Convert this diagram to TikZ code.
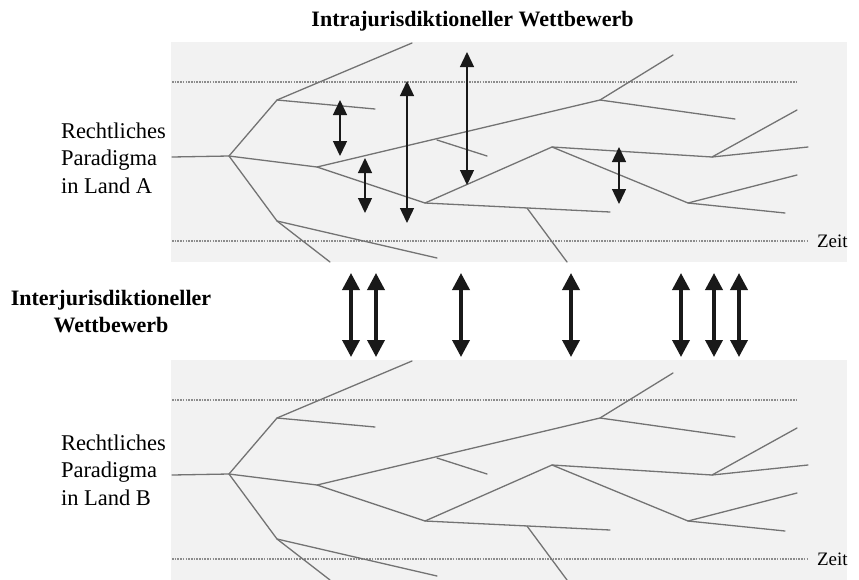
\documentclass[tikz,border=0pt]{standalone}
\usepackage{fontspec}
\setmainfont{Liberation Serif}
\usetikzlibrary{arrows.meta}

\tikzset{
  branch/.style={draw=black!55, line width=1.3pt, line cap=round, line join=round},
  timeline/.style={draw=black!45, line width=1.1pt, dash pattern=on 1.6pt off 1.1pt},
  panel/.style={fill=black!5, draw=none},
  smallarrow/.style={draw=black!90, line width=1.4pt,
    {Triangle[width=14pt,length=15pt]}-{Triangle[width=14pt,length=15pt]}},
  bigarrow/.style={draw=black!90, line width=3.6pt,
    {Triangle[width=17pt,length=17pt]}-{Triangle[width=17pt,length=17pt]}},
  lbl/.style={font=\fontsize{22.5}{27.3}\selectfont, inner sep=0pt, outer sep=0pt},
  ttl/.style={font=\fontsize{22}{27}\selectfont\bfseries, inner sep=0pt, outer sep=0pt},
  zeit/.style={font=\fontsize{19}{22}\selectfont, inner sep=0pt, outer sep=0pt},
  paradigm/.pic={
    \path[panel] (171,42) rectangle (847,262);
    \coordinate (-L1a) at (172,82);  \coordinate (-L1b) at (797,82);
    \coordinate (-L2a) at (172,241); \coordinate (-L2b) at (808,241);
    \draw[timeline] (-L1a) -- (-L1b);
    \draw[timeline] (-L2a) -- (-L2b);
    \node[zeit, anchor=base west] (-zeit) at (817,247) {Zeit};
    \coordinate (-T0) at (172,157);
    \coordinate (-R) at (229,156);
    \coordinate (-A) at (277,100);
    \coordinate (-Atop) at (412,43);
    \coordinate (-Aend) at (375,109);
    \coordinate (-B) at (317,167);
    \coordinate (-P) at (600,100);
    \coordinate (-Ptop) at (673,55);
    \coordinate (-Pend) at (735,119);
    \coordinate (-S) at (437,140);
    \coordinate (-Send) at (487,156);
    \coordinate (-C) at (425,203);
    \coordinate (-D) at (552,147);
    \coordinate (-E) at (712,157);
    \coordinate (-Etop) at (797,110);
    \coordinate (-Eend) at (808,147);
    \coordinate (-F) at (688,203);
    \coordinate (-Ftop) at (797,175);
    \coordinate (-Fend) at (785,213);
    \coordinate (-Cend) at (610,212);
    \coordinate (-Q) at (527,208);
    \coordinate (-Qend) at (567,262);
    \coordinate (-G) at (277,221);
    \coordinate (-Gend) at (330,262);
    \coordinate (-Gright) at (437,258);
    \draw[branch] (-T0) -- (-R) -- (-A) -- (-Atop);
    \draw[branch] (-A) -- (-Aend);
    \draw[branch] (-R) -- (-B) -- (-P) -- (-Ptop);
    \draw[branch] (-P) -- (-Pend);
    \draw[branch] (-S) -- (-Send);
    \draw[branch] (-B) -- (-C) -- (-D) -- (-E) -- (-Etop);
    \draw[branch] (-E) -- (-Eend);
    \draw[branch] (-D) -- (-F) -- (-Ftop);
    \draw[branch] (-F) -- (-Fend);
    \draw[branch] (-C) -- (-Cend);
    \draw[branch] (-Q) -- (-Qend);
    \draw[branch] (-R) -- (-G) -- (-Gend);
    \draw[branch] (-G) -- (-Gright);
  }
}

\begin{document}
\begin{tikzpicture}[x=1pt, y=-1pt]
  \useasboundingbox (0,0) rectangle (859,579);
  \fill[white] (0,0) rectangle (859,579);

  \pic (top) at (0,0) {paradigm};
  \pic (bot) at (0,318) {paradigm};

  % title
  \node[ttl, anchor=base] (title) at (472.5,26) {Intrajurisdiktioneller Wettbewerb};

  % left labels (base anchor = baseline of the last line)
  \node[lbl, align=left, anchor=base west] (landA) at (61,193)
    {Rechtliches\\Paradigma\\in Land A};
  \node[lbl, align=left, anchor=base west] (landB) at (61,505)
    {Rechtliches\\Paradigma\\in Land B};

  \node[ttl, align=center, anchor=base] (inter) at (111,332)
    {Interjurisdiktioneller\\Wettbewerb};

  % small arrows (intrajurisdictional)
  \foreach \x/\ya/\yb [count=\i] in {340/100/156, 365/158/213, 407/81/223, 467/52/185, 619/147/204} {
    \coordinate (sa\i) at (\x,\ya);
    \coordinate (sb\i) at (\x,\yb);
    \draw[smallarrow] (sa\i) -- (sb\i);
  }

  % big arrows (interjurisdictional)
  \foreach \x [count=\i] in {351,376,461,571,681,714,739} {
    \coordinate (ba\i) at (\x,273);
    \coordinate (bb\i) at (\x,357);
    \draw[bigarrow] (ba\i) -- (bb\i);
  }
\end{tikzpicture}
\end{document}
